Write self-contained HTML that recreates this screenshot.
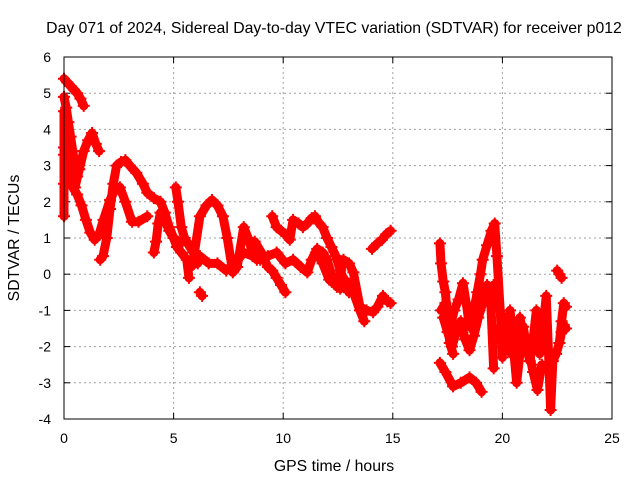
<!DOCTYPE html>
<html><head><meta charset="utf-8"><style>
html,body{margin:0;padding:0;background:#fff}
svg{display:block;font-family:"Liberation Sans",sans-serif}
</style></head><body>
<svg id="chart" width="640" height="480">
<text x="334" y="33" text-anchor="middle" font-size="15.8">Day 071 of 2024, Sidereal Day-to-day VTEC variation (SDTVAR) for receiver p012</text>
<text x="334" y="471" text-anchor="middle" font-size="15.8">GPS time / hours</text>
<text transform="translate(19,238) rotate(-90)" text-anchor="middle" font-size="15.8">SDTVAR / TECUs</text>
<g id="grid"></g>
<g id="ticks"></g>
<g id="series"></g>
<rect x="64" y="57" width="548" height="362" fill="none" stroke="#000" stroke-width="1"/>
</svg>
<script>
const xTicks=[0,5,10,15,20,25];
const yTicks=[6,5,4,3,2,1,0,-1,-2,-3,-4];
const traceTimes=[
[0,0.15,0.3,0.45,0.6,0.75,0.9],
[0,0.1,0.2,0.3,0.4,0.5,0.6],
[0,0.2,0.4,0.6,0.8,1.0,1.2,1.4,1.6,1.8,2.1,2.3,2.55,2.8,3.1,3.4,3.8],
[0.5,0.7,0.9,1.1,1.28,1.45,1.6],
[1.65,1.78,1.95,2.1,2.25,2.4,2.6,2.8,3.0,3.3,3.6,3.8,4.1,4.4,4.6,4.8,5.0,5.15,5.35,5.6,5.7],
[4.1,4.2,4.3,4.4,4.6,4.8,5.0,5.2,5.4],
[5.1,5.2,5.35,5.5,5.7,5.9,6.1],
[5.9,6.2,6.5,6.75,7.0,7.25,7.45,7.7,7.9,8.2,8.4,8.6,8.8],
[5.8,6.2,6.6,7.0,7.4,7.8,8.2,8.6,8.95,9.3,9.7,10.1,10.45,10.8,11.1,11.3,11.55,11.8,12.0,12.2,12.45,12.75,13.0,13.2,13.5,13.8,14.1,14.3,14.55,14.75,14.9],
[9.5,9.7,9.9,10.1,10.3,10.45,10.7,10.9,11.1,11.3,11.45,11.65,11.8,12.0,12.2,12.4,12.6,12.8,13.0],
[8.7,9.0,9.3,9.5,9.7,9.9,10.1],
[11.5,11.8,12.1,12.4,12.6,12.9,13.2,13.5,13.7],
[14.05,14.3,14.5,14.7,14.9],
[0,0,0,0],
[6.2,6.3],
[17.15,17.2,17.3,17.4,17.5,17.6,17.75],
[17.15,17.4,17.75,18.1,18.5,18.8,19.05],
[17.2,17.4,17.6,17.8,18.0,18.2,18.35,18.5,18.7,18.85,19.0,19.1,19.3,19.5,19.65,19.75,19.9,20.0],
[17.3,17.5,17.7,17.9,18.1,18.3,18.5,18.7,18.9,19.1,19.3,19.45,19.6],
[19.6,19.8,20.0,20.2,20.35,20.5,20.65,20.8,20.95,21.1,21.25,21.4,21.55,21.7,21.85,22.0,22.1,22.2,22.3,22.45,22.6,22.7,22.8,22.9],
[19.8,20.0,20.2,20.4,20.6,20.8,21.0,21.2,21.4,21.6,21.8],
[22.5,22.6,22.7],
[22.6,22.7,22.8,22.9]
];
const traceValues=[
[5.4,5.3,5.2,5.1,5.0,4.85,4.65],
[4.9,4.6,4.2,3.8,3.4,3.0,2.7],
[3.3,2.8,2.4,2.2,1.9,1.5,1.15,0.95,1.1,1.5,2.05,2.3,2.4,2.0,1.45,1.45,1.6],
[2.4,2.9,3.4,3.7,3.9,3.6,3.4],
[0.4,0.5,1.0,1.8,2.5,3.0,3.1,3.15,3.0,2.8,2.5,2.25,2.1,2.0,1.7,1.3,1.0,0.75,0.6,0.4,-0.1],
[0.6,0.9,1.4,1.7,1.5,1.2,1.0,0.9,0.9],
[2.4,2.0,1.3,1.0,0.8,0.6,0.3],
[0.4,1.6,1.9,2.05,1.9,1.6,1.0,0.05,0.2,1.3,1.0,0.6,0.4],
[0.2,0.5,0.3,0.3,0.1,0.3,0.6,0.5,0.4,0.5,0.6,0.3,0.4,0.2,0.05,0.4,0.7,0.6,0.4,0.0,-0.35,0.4,0.3,0.05,-0.9,-1.0,-1.05,-0.9,-0.6,-0.75,-0.8],
[1.6,1.3,1.2,1.1,0.95,1.5,1.4,1.3,1.4,1.55,1.6,1.4,1.3,1.0,0.75,0.5,0.1,-0.2,-0.5],
[0.9,0.6,0.2,0.1,-0.1,-0.3,-0.5],
[0.6,0.3,-0.15,-0.3,-0.4,-0.2,-0.5,-1.0,-1.3],
[0.7,0.85,0.95,1.1,1.2],
[1.6,2.5,3.5,4.5],
[-0.5,-0.6],
[0.85,0.3,-0.2,-0.5,-1.2,-1.9,-2.2],
[-2.45,-2.7,-3.1,-3.0,-2.85,-3.0,-3.25],
[-1.0,-0.8,-1.5,-1.0,-0.7,-0.25,-0.8,-1.45,-1.0,-0.5,0.0,0.4,0.8,1.2,1.4,0.5,-1.0,-2.3],
[-1.2,-1.6,-2.0,-1.6,-1.3,-1.8,-2.1,-1.7,-1.2,-0.8,-0.3,-0.5,-2.6],
[-0.3,-0.8,-1.3,-1.6,-1.0,-2.0,-3.0,-2.2,-1.45,-2.0,-2.4,-1.8,-1.0,-2.2,-1.5,-0.6,-2.1,-3.75,-2.4,-2.2,-1.9,-1.3,-0.8,-0.9],
[-1.5,-2.0,-1.2,-2.2,-1.6,-1.2,-1.8,-2.1,-2.7,-3.2,-2.5],
[0.1,0.0,-0.1],
[-1.9,-1.6,-1.4,-1.5]
];
const NS='http://www.w3.org/2000/svg';
const X0=64,X1=612,Y0=419,Y1=57,XMIN=0,XMAX=25,YMIN=-4,YMAX=6;
function sx(t){return X0+(t-XMIN)/(XMAX-XMIN)*(X1-X0);}
function sy(v){return Y0-(v-YMIN)/(YMAX-YMIN)*(Y0-Y1);}
function mk(tag,attrs,parent){const e=document.createElementNS(NS,tag);for(const k in attrs)e.setAttribute(k,attrs[k]);parent.appendChild(e);return e;}
const grid=document.getElementById('grid'),ticks=document.getElementById('ticks'),series=document.getElementById('series');
xTicks.forEach(t=>{
  const x=sx(t);
  if(t>XMIN&&t<XMAX){
    const g=mk('line',{x1:x,x2:x,y1:Y0,y2:Y1,stroke:'#a0a0a0','stroke-dasharray':'2,3'},grid);
    
    
  }
  mk('line',{x1:x,x2:x,y1:Y0,y2:Y0-6,stroke:'#000'},ticks);
  mk('line',{x1:x,x2:x,y1:Y1,y2:Y1+6,stroke:'#000'},ticks);
  const l=mk('text',{x:x,y:443,'text-anchor':'middle','font-size':14},ticks);
  l.textContent=t;
  
  
});
yTicks.forEach(v=>{
  const y=sy(v);
  if(v>YMIN&&v<YMAX){
    const g=mk('line',{x1:X0,x2:X1,y1:y,y2:y,stroke:'#a0a0a0','stroke-dasharray':'2,3'},grid);
    
    
  }
  mk('line',{x1:X0,x2:X0+6,y1:y,y2:y,stroke:'#000'},ticks);
  mk('line',{x1:X1,x2:X1-6,y1:y,y2:y,stroke:'#000'},ticks);
  const l=mk('text',{x:51,y:y+5,'text-anchor':'end','font-size':14},ticks);
  l.textContent=v;
  
  
});
traceTimes.forEach((ts,i)=>{
  const vs=traceValues[i];
  const pts=ts.map((t,j)=>sx(t)+','+sy(vs[j])).join(' ');
  const pl=mk('polyline',{points:pts,fill:'none',stroke:'#ff0000','stroke-width':9,'stroke-linejoin':'round','stroke-linecap':'round'},series);
  
  
  ts.forEach((t,j)=>{
    const x=sx(t),y=sy(vs[j]);
    const p=mk('path',{d:`M${x-6},${y}H${x+6}M${x},${y-6}V${y+6}`,stroke:'#ff0000','stroke-width':2},series);
    
    
  });
});
</script>
</body></html>
